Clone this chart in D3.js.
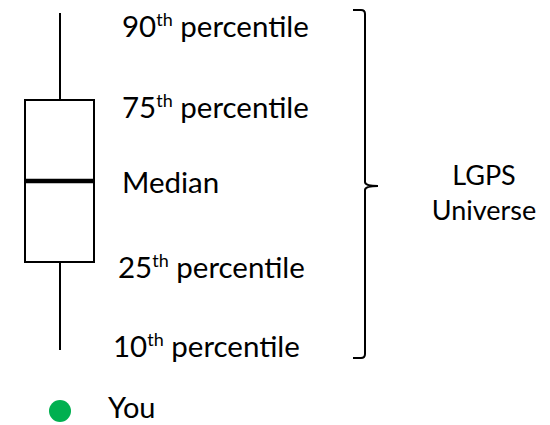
<!DOCTYPE html>
<html>
<head>
<meta charset="utf-8">
<script src="https://cdn.jsdelivr.net/npm/d3@7"></script>
<style>
  html, body { margin: 0; padding: 0; background: #fff; }
  svg { display: block; }
  text { font-family: Lato, "Open Sans", sans-serif; fill: #000; }
</style>
</head>
<body>
<svg id="chart" width="550" height="425"></svg>
<script>
// ---- data ----
const percentiles = [90, 75, 50, 25, 10];
const labelMain = ["90", "75", "Median", "25", "10"];
const labelSup = ["th", "th", "", "th", "th"];
const labelTail = [" percentile", " percentile", "", " percentile", " percentile"];
const groupLabel = ["LGPS", "Universe"];
const youLabel = "You";

// ---- layout ----
const svg = d3.select("#chart");
const y = d3.scaleLinear().domain([10, 25, 50, 75, 90]).range([350, 262, 181, 100, 13]);
const yLabel = d3.scaleLinear().domain([10, 25, 50, 75, 90]).range([357, 278, 193, 118, 37]);
const labelX = [122, 122, 122, 118, 113];
const boxX0 = 25, boxX1 = 94, cx = 60;

// whiskers
svg.append("line").attr("x1", cx).attr("x2", cx).attr("y1", y(90)).attr("y2", y(75))
  .attr("stroke", "#000").attr("stroke-width", 2);
svg.append("line").attr("x1", cx).attr("x2", cx).attr("y1", y(25)).attr("y2", y(10))
  .attr("stroke", "#000").attr("stroke-width", 2);
// box
svg.append("rect").attr("x", boxX0).attr("y", y(75))
  .attr("width", boxX1 - boxX0).attr("height", y(25) - y(75))
  .attr("fill", "none").attr("stroke", "#000").attr("stroke-width", 2);
// median
svg.append("line").attr("x1", boxX0 - 1).attr("x2", boxX1 + 1).attr("y1", y(50)).attr("y2", y(50))
  .attr("stroke", "#000").attr("stroke-width", 4.5);

// labels
percentiles.forEach((p, i) => {
  const t = svg.append("text").attr("x", labelX[i]).attr("y", yLabel(p))
    .attr("font-size", 29.5);
  t.append("tspan").text(labelMain[i]);
  if (labelSup[i]) {
    t.append("tspan").attr("font-size", 18).attr("dy", -11).text(labelSup[i]);
    t.append("tspan").attr("dy", 11).text(labelTail[i]);
  }
});

// brace
const bx = 365, bTop = 10, bBot = 358, bMid = 186, tip = 378, hook = 353;
const r = 4;
const brace = d3.path();
brace.moveTo(hook, bTop);
brace.lineTo(bx - r, bTop);
brace.quadraticCurveTo(bx, bTop, bx, bTop + r);
brace.lineTo(bx, bMid - r);
brace.quadraticCurveTo(bx, bMid, tip, bMid);
brace.moveTo(tip, bMid);
brace.quadraticCurveTo(bx, bMid, bx, bMid + r);
brace.lineTo(bx, bBot - r);
brace.quadraticCurveTo(bx, bBot, bx - r, bBot);
brace.lineTo(hook, bBot);
svg.append("path").attr("d", brace.toString()).attr("fill", "none")
  .attr("stroke", "#000").attr("stroke-width", 2);

// group label
svg.selectAll("text.grp").data(groupLabel).join("text").attr("class", "grp")
  .attr("x", 484).attr("y", (d, i) => 185 + i * 35)
  .attr("text-anchor", "middle").attr("font-size", 27).text(d => d);

// You
svg.append("circle").attr("cx", cx).attr("cy", 411).attr("r", 11).attr("fill", "#00b050");
svg.append("text").attr("x", 108).attr("y", 418).attr("font-size", 29).text(youLabel);
</script>
</body>
</html>
